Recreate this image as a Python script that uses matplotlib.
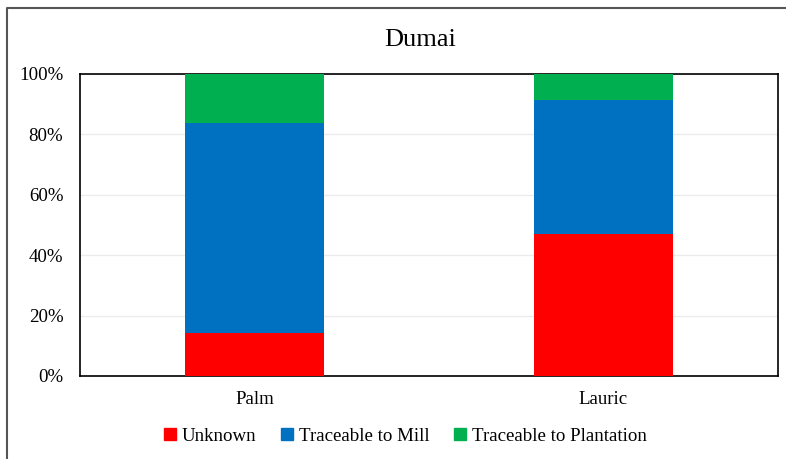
import matplotlib
matplotlib.use("Agg")
import matplotlib.pyplot as plt
from matplotlib.lines import Line2D

categories = ["Palm", "Lauric"]
unknown = [14.3, 46.9]
mill = [69.4, 44.4]
plantation = [16.3, 8.7]
series_names = ["Unknown", "Traceable to Mill", "Traceable to Plantation"]
colors = ["#FF0000", "#0070C0", "#00B050"]
yticks = [0, 20, 40, 60, 80, 100]

plt.rcParams['font.family'] = ['Liberation Serif', 'DejaVu Serif']
FS = 13.6

fig = plt.figure(figsize=(7.86, 4.59), dpi=100)
ax = fig.add_axes([80/786, 1-376/459, (778-80)/786, (376-74)/459])

x = list(range(len(categories)))
bottom = [0]*len(categories)
for vals, name, c in zip([unknown, mill, plantation], series_names, colors):
    ax.bar(x, vals, width=0.4, bottom=bottom, color=c, label=name, zorder=3)
    bottom = [b+v for b, v in zip(bottom, vals)]

ax.set_xlim(-0.5, 1.5)
ax.set_ylim(0, 100)
ax.set_yticks(yticks)
ax.set_yticklabels([f"{t}%" for t in yticks], fontsize=FS)
ax.set_xticks(x)
ax.set_xticklabels(categories, fontsize=FS)
ax.tick_params(axis='y', length=0, pad=12)
ax.tick_params(axis='x', length=0, pad=11)
ax.yaxis.grid(True, color="#EBEBEB", linewidth=1, zorder=0)
for s in ax.spines.values():
    s.set_color("black")
    s.set_linewidth(1.2)

fig.text(420/786, 1-40/459, "Dumai", ha="center", va="center", fontsize=19)

handles = [Line2D([0], [0], marker='s', linestyle='none', markerfacecolor=c,
                  markeredgecolor=c, markersize=8.5) for c in colors]
fig.legend(handles, series_names, loc="center", bbox_to_anchor=(405/786, 1-436/459),
           ncol=3, frameon=False, fontsize=FS, handletextpad=0.3, columnspacing=1.25,
           handlelength=0.7)

# outer chart frame (partially visible)
frame = Line2D([7/786, 7/786, 1.0], [0.0, 1-8/459, 1-8/459], transform=fig.transFigure,
               color="#555555", linewidth=1.5)
fig.add_artist(frame)

fig.savefig("out.png", dpi=100)
